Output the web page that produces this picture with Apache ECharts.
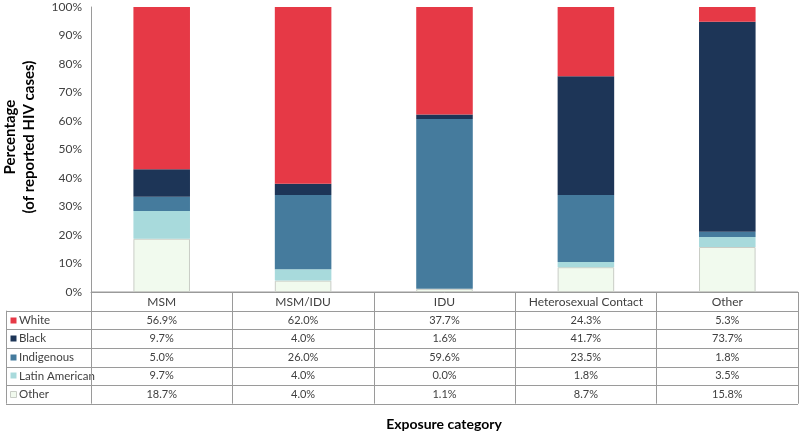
<!DOCTYPE html>
<html><head><meta charset="utf-8">
<script src="https://cdn.jsdelivr.net/npm/echarts@6/dist/echarts.min.js"></script>
<style>html,body{margin:0;padding:0;background:#fff}#c{width:800px;height:437px}</style>
</head><body><div id="c"></div>
<script>
const categories = ['MSM', 'MSM/IDU', 'IDU', 'Heterosexual Contact', 'Other'];
const white = [56.9, 62.0, 37.7, 24.3, 5.3];
const black = [9.7, 4.0, 1.6, 41.7, 73.7];
const indigenous = [5.0, 26.0, 59.6, 23.5, 1.8];
const latinAmerican = [9.7, 4.0, 0.0, 1.8, 3.5];
const otherEth = [18.7, 4.0, 1.1, 8.7, 15.8];
const yTicks = [0, 10, 20, 30, 40, 50, 60, 70, 80, 90, 100];

const seriesDefs = [
  {name: 'Other', data: otherEth, color: '#F1FAEE', border: '#c9cdc6'},
  {name: 'Latin American', data: latinAmerican, color: '#A8DADC', border: null},
  {name: 'Indigenous', data: indigenous, color: '#457B9D', border: null},
  {name: 'Black', data: black, color: '#1D3557', border: null},
  {name: 'White', data: white, color: '#E63946', border: null}
];
const tableRows = ['White', 'Black', 'Indigenous', 'Latin American', 'Other'];

const FONT = 'Lato, "Open Sans", sans-serif';
const TXT = '#404040';
const LINE = '#9a9a9a';
const gridLeft = 91, gridRight = 2, gridTop = 7, plotBottom = 292;
const headerH = 18.7, rowH = 18.6, tableLeft = 6;
const tableBottom = plotBottom + headerH + rowH * 5;

const chart = echarts.init(document.getElementById('c'), null, {renderer: 'canvas'});
const option = {
  animation: false,
  grid: {left: gridLeft, right: gridRight, top: gridTop, bottom: 437 - plotBottom, containLabel: false, outerBoundsMode: 'none'},
  xAxis: {
    type: 'category', data: categories,
    axisLine: {show: true, lineStyle: {color: LINE, width: 1}},
    axisTick: {show: true, alignWithLabel: false, length: tableBottom - plotBottom, lineStyle: {color: LINE, width: 1}},
    axisLabel: {color: TXT, fontFamily: FONT, fontSize: 12, margin: 4, interval: 0}
  },
  yAxis: {
    type: 'value', min: 0, max: 100, interval: 10,
    axisLine: {show: true, lineStyle: {color: LINE, width: 1}},
    axisTick: {show: false},
    splitLine: {show: false},
    axisLabel: {color: TXT, fontFamily: FONT, fontSize: 12, margin: 9,
      formatter: v => yTicks.includes(v) ? v + '%' : ''}
  },
  series: seriesDefs.map(s => ({
    name: s.name, type: 'bar', stack: 'total', barWidth: '40%',
    data: s.data,
    itemStyle: {color: s.color, borderColor: s.border || s.color, borderWidth: s.border ? 1 : 0}
  }))
};
chart.setOption(option);

const g = [];
const colX = categories.map((c, i) => chart.convertToPixel({xAxisIndex: 0}, i));
g.push({type: 'line', shape: {x1: gridLeft, y1: plotBottom, x2: 800 - gridRight, y2: plotBottom}, style: {stroke: LINE, lineWidth: 1}});
for (let r = 0; r <= 5; r++) {
  const y = Math.round(plotBottom + headerH + rowH * r) + 0.5;
  g.push({type: 'line', shape: {x1: tableLeft, y1: y, x2: 800 - gridRight, y2: y}, style: {stroke: LINE, lineWidth: 1}});
}
g.push({type: 'line', shape: {x1: tableLeft + 0.5, y1: plotBottom + headerH, x2: tableLeft + 0.5, y2: tableBottom}, style: {stroke: LINE, lineWidth: 1}});
tableRows.forEach((name, r) => {
  const s = seriesDefs.find(d => d.name === name);
  const yc = plotBottom + headerH + rowH * r + rowH / 2;
  g.push({type: 'rect', shape: {x: 10.5, y: Math.round(yc - 3.5) + 0.5, width: 6, height: 6},
    style: {fill: s.color, stroke: s.border || s.color, lineWidth: s.border ? 1 : 0}});
  g.push({type: 'text', x: 19, y: yc, style: {text: name, font: '11.5px ' + FONT, fill: TXT, textVerticalAlign: 'middle', textAlign: 'left'}});
  s.data.forEach((v, i) => {
    g.push({type: 'text', x: colX[i], y: yc, style: {text: v.toFixed(1) + '%', font: '11px ' + FONT, fill: TXT, textAlign: 'center', textVerticalAlign: 'middle'}});
  });
});
g.push({type: 'text', x: 444, y: 424, style: {text: 'Exposure category', font: 'bold 14px ' + FONT, fill: '#000', textAlign: 'center', textVerticalAlign: 'middle'}});
g.push({type: 'text', x: 20, y: 137, rotation: Math.PI / 2,
  style: {text: 'Percentage\n(of reported HIV cases)', font: 'bold 15px ' + FONT, lineHeight: 19, fill: '#000', textAlign: 'center', textVerticalAlign: 'middle'}});
chart.setOption({graphic: {elements: g}});
</script></body></html>
